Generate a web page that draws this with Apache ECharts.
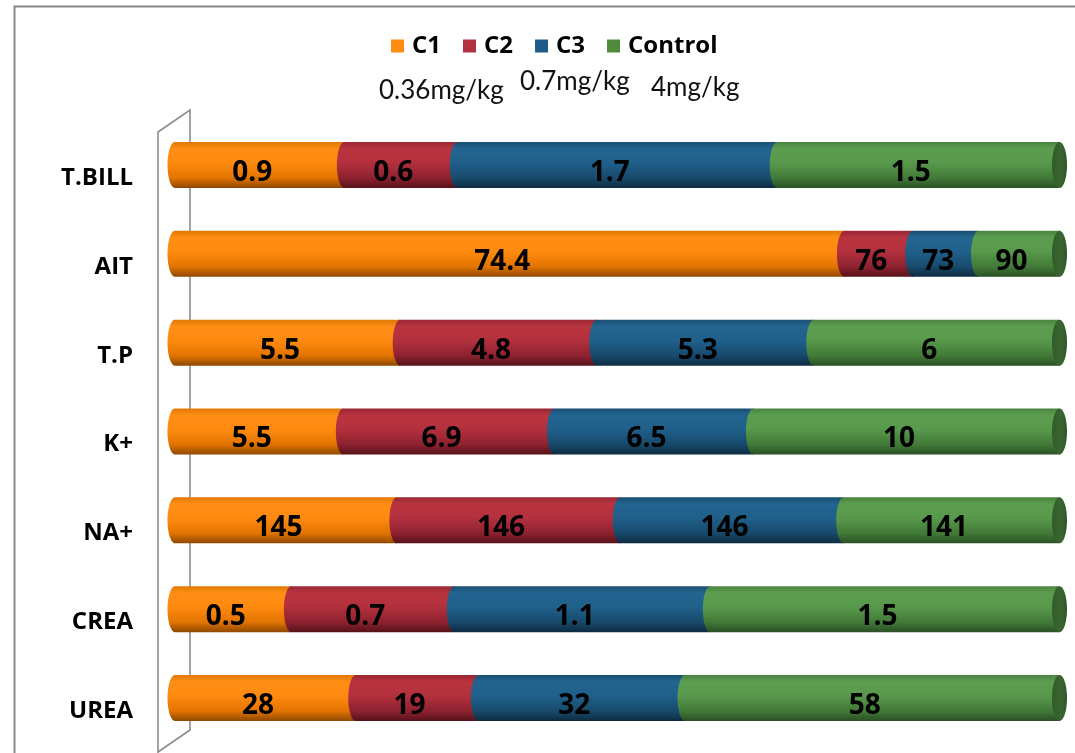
<!DOCTYPE html>
<html>
<head>
<meta charset="utf-8">
<script src="https://cdn.jsdelivr.net/npm/echarts@6/dist/echarts.min.js"></script>
<style>
html,body{margin:0;padding:0;background:#fff;}
#chart{width:1075px;height:753px;}
</style>
</head>
<body>
<div id="chart"></div>
<script>
// ---- data ----
const categories = ['T.BILL', 'AIT', 'T.P', 'K+', 'NA+', 'CREA', 'UREA'];
const seriesNames = ['C1', 'C2', 'C3', 'Control'];
// NOTE: the AIT / C1 bar is sized in the source as 744 although its label reads 74.4
const c1 = [0.9, 744, 5.5, 5.5, 145, 0.5, 28];
const c2 = [0.6, 76, 4.8, 6.9, 146, 0.7, 19];
const c3 = [1.7, 73, 5.3, 6.5, 146, 1.1, 32];
const control = [1.5, 90, 6, 10, 141, 1.5, 58];
const labelOverrides = { 'C1|AIT': '74.4' };
const doseLabels = ['0.36mg/kg', '0.7mg/kg', '4mg/kg'];

// ---- styling ----
const BOLD_FONT = '"Open Sans", Lato, sans-serif';
const palette = {
  C1:      { base: '#ff8c12', stops: ['#e07803', '#ff8e16', '#ff8a10', '#e27400', '#8e4800'] },
  C2:      { base: '#b3303f', stops: ['#9a2634', '#b8343f', '#b3303d', '#8e2230', '#561219'] },
  C3:      { base: '#1f5d88', stops: ['#1a4e72', '#226590', '#20608b', '#184a6c', '#0d2b41'] },
  Control: { base: '#4f8a3d', stops: ['#4a8340', '#5c9e50', '#58994c', '#427a38', '#2a5024'] }
};
function grad(stops) {
  return {
    type: 'linear', x: 0, y: 0, x2: 0, y2: 1, global: false,
    colorStops: [
      { offset: 0, color: stops[0] },
      { offset: 0.15, color: stops[1] },
      { offset: 0.45, color: stops[2] },
      { offset: 0.78, color: stops[3] },
      { offset: 1, color: stops[4] }
    ]
  };
}

const allSeries = [c1, c2, c3, control];
const totals = categories.map((_, i) => allSeries.reduce((s, arr) => s + arr[i], 0));

function buildData(k) {
  return categories.map((cat, i) => {
    let before = 0;
    for (let j = 0; j < k; j++) before += allSeries[j][i];
    const start = before / totals[i] * 100;
    const end = (before + allSeries[k][i]) / totals[i] * 100;
    const key = seriesNames[k] + '|' + cat;
    const txt = labelOverrides[key] !== undefined ? labelOverrides[key] : String(allSeries[k][i]);
    return [i, start, end, txt];
  });
}

const RX = 7.5;
function ellipsePts(cx, cy, rx, ry, a0, a1, n) {
  const pts = [];
  for (let s = 0; s <= n; s++) {
    const t = a0 + (a1 - a0) * s / n;
    pts.push([cx + rx * Math.cos(t), cy + ry * Math.sin(t)]);
  }
  return pts;
}

function makeRender(k) {
  const name = seriesNames[k];
  const isLast = k === seriesNames.length - 1;
  return function (params, api) {
    const ci = api.value(0);
    const p0 = api.coord([api.value(1), ci]);
    const p1 = api.coord([api.value(2), ci]);
    const band = api.size([0, 1])[1];
    const h = band * 0.518;
    const ry = h / 2;
    const yc = p0[1];
    const yT = yc - ry, yB = yc + ry;
    const x0 = p0[0], x1 = p1[0];
    const pts = [[x0, yT], [x1, yT], [x1, yB]].concat(ellipsePts(x0, yc, RX, ry, Math.PI / 2, Math.PI * 1.5, 24));
    const children = [{
      type: 'polygon',
      shape: { points: pts },
      style: { fill: grad(palette[name].stops), stroke: null }
    }];
    if (isLast) {
      children.push({
        type: 'polygon',
        shape: { points: ellipsePts(x1, yc, RX, ry, 0, Math.PI * 2, 40) },
        style: {
          fill: {
            type: 'linear', x: 0, y: 0, x2: 1, y2: 0, global: false,
            colorStops: [{ offset: 0, color: '#325a2a' }, { offset: 0.6, color: '#3a6631' }, { offset: 1, color: '#2f5528' }]
          }
        }
      });
    }
    children.push({
      type: 'text',
      x: (x0 + x1) / 2 - RX,
      y: yc + 8,
      style: {
        text: api.value(3),
        fontFamily: BOLD_FONT,
        fontWeight: 'bold',
        fontSize: 28,
        fill: '#000',
        align: 'center',
        verticalAlign: 'middle'
      }
    });
    return { type: 'group', children: children };
  };
}

const chart = echarts.init(document.getElementById('chart'), null, { renderer: 'canvas' });

const option = {
  backgroundColor: '#ffffff',
  animation: false,
  legend: {
    data: seriesNames,
    left: 391,
    top: 34,
    padding: 0,
    icon: 'rect',
    itemWidth: 13,
    itemHeight: 13,
    itemGap: 22,
    textStyle: {
      fontFamily: BOLD_FONT,
      fontWeight: 'bold',
      fontSize: 24,
      color: '#000',
      padding: [0, 0, 0, 3]
    }
  },
  grid: { left: 175, right: 15.5, top: 120.6, bottom: 10.6, containLabel: false },
  xAxis: {
    type: 'value', min: 0, max: 100, show: false
  },
  yAxis: {
    type: 'category',
    data: categories,
    inverse: true,
    axisLine: { show: false },
    axisTick: { show: false },
    splitLine: { show: false },
    axisLabel: {
      margin: 42,
      fontFamily: BOLD_FONT,
      fontWeight: 'bold',
      fontSize: 24,
      color: '#000',
      verticalAlign: 'top',
      lineHeight: 26,
      padding: [0, 0, 0, 0]
    }
  },
  graphic: [
    {
      type: 'rect', left: 12, top: 4, z: 0,
      shape: { x: 0, y: 0, width: 1100, height: 800 },
      style: { fill: 'none', stroke: '#878787', lineWidth: 2 }
    },
    {
      type: 'polyline', z: 0,
      shape: { points: [[158, 760], [158, 132], [190, 110], [190, 730], [158, 752]] },
      style: { fill: 'none', stroke: '#8c8c8c', lineWidth: 1.6 }
    },
    {
      type: 'text', x: 379, y: 91, z: 5,
      style: { text: doseLabels[0], fontFamily: 'Lato, "Open Sans", sans-serif', fontSize: 26, fill: '#111', verticalAlign: 'middle' }
    },
    {
      type: 'text', x: 520, y: 82, z: 5,
      style: { text: doseLabels[1], fontFamily: 'Lato, "Open Sans", sans-serif', fontSize: 26, fill: '#111', verticalAlign: 'middle' }
    },
    {
      type: 'text', x: 651, y: 88, z: 5,
      style: { text: doseLabels[2], fontFamily: 'Lato, "Open Sans", sans-serif', fontSize: 26, fill: '#111', verticalAlign: 'middle' }
    }
  ],
  series: seriesNames.map((name, k) => ({
    type: 'custom',
    name: name,
    coordinateSystem: 'cartesian2d',
    itemStyle: { color: palette[name].base },
    encode: { x: [1, 2], y: 0 },
    renderItem: makeRender(k),
    data: buildData(k),
    z: 2 + k
  }))
};
chart.setOption(option);
</script>
</body>
</html>
